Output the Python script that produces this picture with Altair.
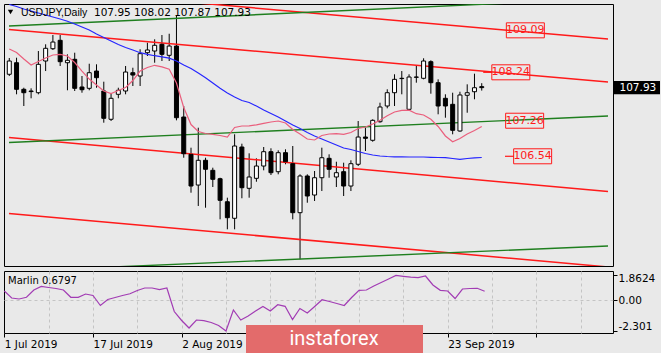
import altair as alt
import pandas as pd

# ---------------- data ----------------
idx = list(range(66))
opens = [108.200, 108.434, 107.896, 107.862, 107.827, 108.469, 108.718, 108.888, 108.434, 108.503,
         107.943, 107.916, 108.266, 107.862, 107.289, 107.795, 107.862, 108.232, 108.165, 108.637,
         108.671, 108.807, 108.584, 108.772, 107.335, 106.580, 105.958, 106.459, 106.256, 106.086,
         105.620, 105.285, 106.728, 105.892, 106.094, 106.343, 106.633, 106.228, 106.613, 106.390,
         105.398, 106.141, 105.756, 106.106, 106.499, 106.121, 106.228, 105.938, 106.378, 106.930,
         106.864, 107.240, 107.558, 107.827, 108.113, 107.491, 108.145, 108.119, 108.455, 108.030,
         107.714, 107.592, 107.052, 107.775, 107.847, 107.95]
highs = [108.530, 108.536, 107.928, 107.916, 108.671, 108.807, 108.995, 108.995, 108.604, 108.637,
         108.165, 108.414, 108.402, 108.050, 107.807, 107.928, 108.368, 108.333, 108.706, 108.839,
         108.908, 108.995, 109.021, 109.380, 107.558, 106.714, 107.119, 106.511, 106.309, 106.106,
         105.702, 106.985, 106.795, 106.600, 106.499, 106.728, 106.702, 106.661, 106.681, 106.748,
         106.175, 106.175, 106.242, 106.714, 106.580, 106.430, 106.410, 106.459, 107.254, 107.119,
         107.289, 107.625, 107.896, 108.200, 108.266, 108.200, 108.368, 108.524, 108.483, 108.098,
         107.795, 107.827, 107.847, 107.997, 108.212, 108.02]
lows = [108.165, 107.795, 107.558, 107.714, 107.795, 108.266, 108.692, 108.368, 107.876, 107.862,
        107.827, 107.876, 107.928, 107.220, 107.254, 107.714, 107.795, 107.963, 107.963, 108.570,
        108.434, 108.469, 108.469, 107.268, 106.511, 105.803, 105.534, 105.499, 105.918, 105.264,
        105.062, 105.062, 105.690, 105.702, 106.025, 106.256, 106.161, 106.175, 106.378, 105.264,
        104.455, 105.600, 105.635, 105.837, 106.106, 105.918, 105.736, 105.837, 106.343, 106.647,
        106.835, 107.220, 107.511, 107.558, 107.795, 107.471, 108.030, 108.098, 107.807, 107.390,
        107.321, 106.985, 107.038, 107.422, 107.694, 107.87]
closes = [108.469, 107.896, 107.827, 107.850, 108.402, 108.726, 108.853, 108.455, 108.483, 107.916,
          107.888, 108.232, 108.131, 107.309, 107.714, 107.876, 108.246, 108.185, 108.617, 108.692,
          108.787, 108.604, 108.772, 107.321, 106.592, 105.938, 106.459, 106.277, 106.074, 105.649,
          105.297, 106.748, 105.904, 106.121, 106.343, 106.633, 106.208, 106.613, 106.430, 105.398,
          106.141, 105.736, 106.106, 106.511, 106.277, 106.208, 105.938, 106.390, 106.930, 106.904,
          107.268, 107.538, 107.827, 108.098, 108.119, 108.145, 108.140, 108.469, 108.030, 107.558,
          107.558, 107.066, 107.781, 107.827, 107.928, 107.93]
ma_fast = [108.712, 108.641, 108.509, 108.388, 108.459, 108.530, 108.590, 108.604, 108.570, 108.438,
           108.266, 108.104, 107.983, 107.862, 107.811, 107.872, 107.932, 108.074, 108.266, 108.337,
           108.382, 108.351, 108.301, 108.023, 107.528, 107.183, 107.042, 107.001, 106.985, 106.961,
           106.930, 107.123, 107.153, 107.157, 107.177, 107.206, 107.234, 107.254, 107.214, 107.082,
           106.991, 106.890, 106.870, 106.961, 106.991, 106.997, 106.985, 107.021, 107.102, 107.133,
           107.194, 107.270, 107.360, 107.436, 107.471, 107.473, 107.402, 107.376, 107.289, 107.143,
           106.951, 106.835, 106.900, 106.991, 107.062, 107.143]
ma_slow = [109.613, 109.572, 109.521, 109.481, 109.440, 109.400, 109.360, 109.319, 109.274, 109.218,
           109.157, 109.096, 109.015, 108.945, 108.874, 108.803, 108.742, 108.691, 108.637, 108.604,
           108.576, 108.554, 108.526, 108.469, 108.388, 108.317, 108.226, 108.131, 108.023, 107.916,
           107.821, 107.740, 107.669, 107.629, 107.558, 107.477, 107.406, 107.335, 107.254, 107.173,
           107.102, 107.021, 106.951, 106.890, 106.829, 106.768, 106.708, 106.677, 106.637, 106.596,
           106.566, 106.546, 106.536, 106.530, 106.528, 106.526, 106.526, 106.526, 106.519, 106.515,
           106.511, 106.495, 106.479, 106.495, 106.509, 106.515]
marlin = [0.697, 0.172, 0.097, 0.225, 0.772, 1.040, 0.960, 0.884, 0.772, 0.225,
          0.225, 0.472, 0.360, -0.390, 0.060, 0.210, 0.360, 0.494, 0.734, 0.921,
          0.921, 0.794, 0.921, -0.839, -1.513, -2.075, -1.476, -1.528, -1.663, -1.888,
          -2.301, -0.727, -1.476, -1.176, -0.801, -0.464, -0.801, -0.330, -0.449, -1.438,
          -0.614, -0.951, -0.464, 0.045, -0.090, -0.240, -0.390, 0.210, 0.749, 0.772,
          1.071, 1.333, 1.596, 1.8624, 1.798, 1.730, 1.693, 1.820, 1.146, 0.749,
          0.697, 0.135, 0.846, 0.884, 0.899, 0.6797]

# channel lines: price at left edge / right edge of the window
red_start = [109.979, 109.106, 106.920, 105.382]
red_end = [108.914, 108.044, 105.827, 104.299]
green_start = [109.177, 106.819, 104.210]
green_end = [109.734, 107.355, 104.724]

level_labels = ["109.09", "108.24", "107.26", "106.54"]

price_ticks = [109.40, 108.45, 107.50, 106.55, 105.60, 104.65]
ind_tick_vals = [1.8624, 0.0, -2.301]
ind_tick_txt = ["1.8624", "0.00", "-2.301"]
date_idx = [0, 12, 24, 60]
date_txt = ["1 Jul 2019", "17 Jul 2019", "2 Aug 2019", "23 Sep 2019"]

# ---------------- styling ----------------
BG = "#e9e9e9"
GRID = "#c4c4c4"
FONT = "DejaVu Sans"
RED = "#ff1a1a"
GREEN = "#1f7f1f"
X0, X1 = -0.04, 82.37

df = pd.DataFrame({"i": idx, "o": opens, "h": highs, "l": lows, "c": closes,
                   "maf": ma_fast, "mas": ma_slow, "marlin": marlin})

xs = alt.Scale(domain=[X0, X1], nice=False, zero=False)
ys = alt.Scale(domain=[104.319, 109.623], nice=False, zero=False)
ys_ind = alt.Scale(domain=[-2.449, 2.195], nice=False, zero=False)

grid_vals = list(range(6, 79, 6))

x_main_axis = alt.Axis(values=grid_vals, labels=False, ticks=False, domain=False,
                       grid=True, gridDash=[3, 3], gridColor=GRID, title=None)
y_main_axis = alt.Axis(orient="right", values=price_ticks, format=".2f", domain=False,
                       tickSize=4, tickColor="black", labelPadding=2, grid=True,
                       gridDash=[3, 3], gridColor=GRID, title=None, labelFont=FONT,
                       labelFontSize=10.5, labelColor="black")

WIDTH = 609

# candles
wicks = alt.Chart(df).mark_rule(color="black", strokeWidth=1, clip=True).encode(
    x=alt.X("i:Q", scale=xs, axis=x_main_axis),
    y=alt.Y("l:Q", scale=ys, axis=y_main_axis),
    y2="h:Q",
)
bodies = alt.Chart(df).mark_bar(size=4, stroke="black", strokeWidth=1, clip=True).encode(
    x=alt.X("i:Q", scale=xs, axis=None),
    y=alt.Y("o:Q", scale=ys, axis=None),
    y2="c:Q",
    fill=alt.when("datum.c >= datum.o").then(alt.value("white")).otherwise(alt.value("black")),
)

# channel lines
rows = []
for k, (a, b) in enumerate(zip(red_start, red_end)):
    rows += [{"i": X0, "p": a, "id": f"r{k}"}, {"i": X1, "p": b, "id": f"r{k}"}]
red_df = pd.DataFrame(rows)
rows = []
for k, (a, b) in enumerate(zip(green_start, green_end)):
    rows += [{"i": X0, "p": a, "id": f"g{k}"}, {"i": X1, "p": b, "id": f"g{k}"}]
green_df = pd.DataFrame(rows)

red_lines = alt.Chart(red_df).mark_line(color=RED, strokeWidth=1.5, clip=True).encode(
    x=alt.X("i:Q", scale=xs, axis=None), y=alt.Y("p:Q", scale=ys, axis=None), detail="id:N")
green_lines = alt.Chart(green_df).mark_line(color=GREEN, strokeWidth=1.4, clip=True).encode(
    x=alt.X("i:Q", scale=xs, axis=None), y=alt.Y("p:Q", scale=ys, axis=None), detail="id:N")

slow_line = alt.Chart(df).mark_line(color="#2626ff", strokeWidth=1.2, clip=True).encode(
    x=alt.X("i:Q", scale=xs, axis=None), y=alt.Y("mas:Q", scale=ys, axis=None))
fast_line = alt.Chart(df).mark_line(color="#ea5f7d", strokeWidth=1.2, clip=True).encode(
    x=alt.X("i:Q", scale=xs, axis=None), y=alt.Y("maf:Q", scale=ys, axis=None))

# level labels (boxes)
lab_df = pd.DataFrame({"t": level_labels, "p": [float(v) for v in level_labels],
                       "i": [71.0, 69.0, 70.9, 72.0]})
box_shape = "M-1,-0.395H1V0.395H-1Z"
lab_boxes = alt.Chart(lab_df).mark_point(shape=box_shape, size=1444, filled=False,
                                         color=RED, strokeWidth=1, opacity=1).encode(
    x=alt.X("i:Q", scale=xs, axis=None), y=alt.Y("p:Q", scale=ys, axis=None))
lab_text = alt.Chart(lab_df).mark_text(font=FONT, fontSize=11, color=RED,
                                       align="center", baseline="middle").encode(
    x=alt.X("i:Q", scale=xs, axis=None), y=alt.Y("p:Q", scale=ys, axis=None), text="t:N")

dash_df = pd.DataFrame({"i": [65.2, 68.2], "i2": [66.4, 69.4], "p": [108.24, 106.54]})
lab_dash = alt.Chart(dash_df).mark_rule(color=RED, strokeWidth=1.2).encode(
    x=alt.X("i:Q", scale=xs, axis=None), x2="i2:Q", y=alt.Y("p:Q", scale=ys, axis=None))

# current price box on the axis
cur_df = pd.DataFrame({"p": [closes[-1]], "t": [f"{closes[-1]:.2f}"]})
cur_box = alt.Chart(cur_df).mark_point(shape="M-1,-0.285H1V0.285H-1Z", size=2116, filled=True,
                                       color="black", opacity=1).encode(
    x=alt.value(633), y=alt.Y("p:Q", scale=ys, axis=None))
cur_text = alt.Chart(cur_df).mark_text(font=FONT, fontSize=10.5, color="white",
                                       align="left", baseline="middle").encode(
    x=alt.value(615.5), y=alt.Y("p:Q", scale=ys, axis=None), text="t:N")

# header text
hdr_df = pd.DataFrame({"a": ["USDJPY,Daily"],
                       "b": [f"{opens[-1]:.2f} {highs[-1]:.2f} {lows[-1]:.2f} {closes[-1]:.2f}"]})
hdr_a = alt.Chart(hdr_df).mark_text(font="Liberation Sans", fontSize=10.5, color="black",
                                    align="left", baseline="middle").encode(
    x=alt.value(17), y=alt.value(9), text="a:N")
hdr_b = alt.Chart(hdr_df).mark_text(font=FONT, fontSize=10.5, color="black",
                                    align="left", baseline="middle").encode(
    x=alt.value(90), y=alt.value(9), text="b:N")
hdr_tri = alt.Chart(hdr_df).mark_point(shape="triangle-down", size=28, filled=True,
                                       color="black", opacity=1).encode(
    x=alt.value(6.5), y=alt.value(8))

main = alt.layer(
    wicks, red_lines, green_lines, bodies, slow_line, fast_line,
    lab_dash, lab_boxes, lab_text, cur_box, cur_text, hdr_tri, hdr_a, hdr_b,
).properties(width=WIDTH, height=262)

# ---------------- indicator panel ----------------
label_expr = " : ".join(
    [f"datum.value == {v} ? '{t}'" for v, t in zip(date_idx, date_txt)]) + " : ''"
ind_label_expr = " : ".join(
    [f"abs(datum.value - ({v})) < 0.001 ? '{t}'" for v, t in zip(ind_tick_vals, ind_tick_txt)]) + " : ''"

x_ind_axis = alt.Axis(
    values=list(range(0, 79, 6)), labelExpr=label_expr, grid=True, gridDash=[3, 3],
    gridColor={"condition": {"test": "datum.value == 0", "value": "transparent"}, "value": GRID},
    tickColor={"condition": {"test": "datum.value % 12 == 0", "value": "black"}, "value": "transparent"},
    tickSize=4, domain=False, labelAlign="left", labelBaseline="top", labelPadding=2,
    labelFlush=False, labelOverlap=False, title=None, labelFont=FONT, labelFontSize=10.5,
    labelColor="black",
)
y_ind_axis = alt.Axis(
    orient="right", values=ind_tick_vals, labelExpr=ind_label_expr, domain=False,
    tickSize=4, tickColor="black", labelPadding=1, grid=True, gridDash=[3, 3],
    gridColor={"condition": {"test": "abs(datum.value) < 0.001", "value": GRID}, "value": "transparent"},
    labelOffset={"condition": {"test": "datum.value > 1", "value": 3}, "value": 0},
    labelBaseline={"condition": {"test": "datum.value < -1", "value": "bottom"}, "value": "middle"},
    title=None, labelFont=FONT, labelFontSize=10.5, labelColor="black",
)

marlin_line = alt.Chart(df).mark_line(color="#a23cb4", strokeWidth=1.2, clip=True).encode(
    x=alt.X("i:Q", scale=xs, axis=x_ind_axis),
    y=alt.Y("marlin:Q", scale=ys_ind, axis=y_ind_axis),
)
ind_df = pd.DataFrame({"t": [f"Marlin {marlin[-1]:.4f}"], "logo": ["instaforex"]})
ind_name = alt.Chart(ind_df).mark_text(font=FONT, fontSize=10, color="black",
                                       align="left", baseline="middle").encode(
    x=alt.value(4), y=alt.value(10), text="t:N")
logo_box = alt.Chart(ind_df).mark_rect(color="#e36b6b", opacity=1).encode(
    x=alt.value(242), x2=alt.value(419), y=alt.value(54), y2=alt.value(84))
logo_text = alt.Chart(ind_df).mark_text(font="Roboto", fontSize=20, color="white",
                                        align="center", baseline="middle").encode(
    x=alt.value(330), y=alt.value(68), text="logo:N")

indicator = alt.layer(marlin_line, ind_name, logo_box, logo_text).properties(width=WIDTH, height=62)

chart = alt.vconcat(main, indicator, spacing=3).properties(
    background=BG,
    padding={"left": 3, "top": 3, "right": 0, "bottom": 0},
).configure_view(stroke="black", strokeWidth=1, fill=BG)

chart.save("out.html", embed_options={"renderer": "svg", "actions": False})
